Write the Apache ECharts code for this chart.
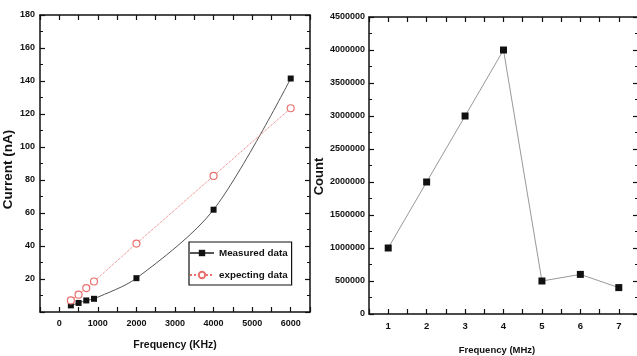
<!DOCTYPE html>
<html>
<head>
<meta charset="utf-8">
<script src="https://cdn.jsdelivr.net/npm/echarts/dist/echarts.min.js"></script>
<style>
html,body{margin:0;padding:0;background:#fff;}
#chart{width:637px;height:356px;}
</style>
</head>
<body>
<div id="chart"></div>
<script>
// ---- Data ----
var freqKHz = [300, 500, 700, 900, 2000, 4000, 6000];
var measuredData = [4, 5.5, 7, 8, 20.5, 62, 141.5];
var expectingData = [7, 10.5, 14.5, 18.5, 41.5, 82.5, 123.5];

var freqMHz = [1, 2, 3, 4, 5, 6, 7];
var countData = [1000000, 2000000, 3000000, 4000000, 500000, 600000, 400000];

var leftSeriesNames = ['Measured data', 'expecting data'];
var leftXTitle = 'Frequency (KHz)';
var leftYTitle = 'Current (nA)';
var rightXTitle = 'Frequency (MHz)';
var rightYTitle = 'Count';

// ---- Chart ----
var NARROW = "'Liberation Sans Narrow','Arial Narrow','Liberation Sans',Arial,sans-serif";
var SANS = "'Liberation Sans',Arial,sans-serif";

function pairs(xs, ys) { return xs.map(function (x, i) { return [x, ys[i]]; }); }

var axisLine = { show: true, onZero: false, lineStyle: { color: '#111', width: 1.5 } };
var tickIn = { show: true, inside: true, length: 5, lineStyle: { color: '#111', width: 1.2 } };
var minorIn = { show: true, splitNumber: 2, length: 3, lineStyle: { color: '#111', width: 1 } };
var lblStyle = { color: '#111', fontFamily: NARROW, fontWeight: 'bold' };

function frameX(gridIndex, min, max, interval) {
  return { type: 'value', gridIndex: gridIndex, position: 'top', min: min, max: max, interval: interval,
    axisLine: axisLine, axisTick: tickIn, axisLabel: { show: false }, splitLine: { show: false } };
}
function frameY(gridIndex, min, max, interval) {
  return { type: 'value', gridIndex: gridIndex, position: 'right', min: min, max: max, interval: interval,
    axisLine: axisLine, axisTick: tickIn, minorTick: minorIn, axisLabel: { show: false }, splitLine: { show: false } };
}

var option = {
  animation: false,
  backgroundColor: '#fff',
  grid: [
    { left: 40, top: 15, width: 270, height: 297, outerBoundsMode: 'none', containLabel: false },
    { left: 369, top: 17, width: 269, height: 297, outerBoundsMode: 'none', containLabel: false }
  ],
  legend: {
    data: leftSeriesNames,
    orient: 'vertical',
    left: 189, top: 242,
    itemWidth: 24, itemHeight: 8, itemGap: 12,
    padding: [6, 4, 5, 0],
    borderColor: '#111', borderWidth: 1.2,
    textStyle: { fontFamily: NARROW, fontWeight: 'bold', fontSize: 9.8, color: '#111' }
  },
  xAxis: [
    { type: 'value', gridIndex: 0, position: 'bottom', min: -500, max: 6500, interval: 500,
      name: leftXTitle, nameLocation: 'middle', nameGap: 28,
      nameTextStyle: { fontFamily: NARROW, fontWeight: 'bold', fontSize: 10.5, color: '#111' },
      axisLine: axisLine, axisTick: tickIn,
      axisLabel: Object.assign({ fontSize: 9, margin: 7, formatter: function (v) { return (v >= 0 && v % 1000 === 0) ? String(v) : ''; } }, lblStyle),
      splitLine: { show: false } },
    frameX(0, -500, 6500, 500),
    { type: 'value', gridIndex: 1, position: 'bottom', min: 0.5, max: 7.5, interval: 0.5,
      name: rightXTitle, nameLocation: 'middle', nameGap: 31,
      nameTextStyle: { fontFamily: NARROW, fontWeight: 'bold', fontSize: 9.5, color: '#111', padding: [0, 13, 0, 0] },
      axisLine: axisLine, axisTick: tickIn,
      axisLabel: Object.assign({ fontSize: 9.5, margin: 7, formatter: function (v) { return Number.isInteger(v) ? String(v) : ''; } }, lblStyle),
      splitLine: { show: false } },
    frameX(1, 0.5, 7.5, 0.5)
  ],
  yAxis: [
    { type: 'value', gridIndex: 0, position: 'left', min: 0, max: 180, interval: 20,
      name: leftYTitle, nameLocation: 'middle', nameGap: 25,
      nameTextStyle: { fontFamily: SANS, fontWeight: 'bold', fontSize: 13.5, color: '#111', padding: [0, 0, 0, -12] },
      axisLine: axisLine, axisTick: tickIn, minorTick: minorIn,
      axisLabel: Object.assign({ fontSize: 9, margin: 5, formatter: function (v) { return v === 0 ? '' : String(v); } }, lblStyle),
      splitLine: { show: false } },
    frameY(0, 0, 180, 20),
    { type: 'value', gridIndex: 1, position: 'left', min: 0, max: 4500000, interval: 500000,
      name: rightYTitle, nameLocation: 'middle', nameGap: 32,
      nameTextStyle: { fontFamily: SANS, fontWeight: 'bold', fontSize: 13, color: '#111', padding: [0, 0, 0, -22] },
      axisLine: axisLine, axisTick: tickIn, minorTick: minorIn,
      axisLabel: Object.assign({ fontSize: 9, margin: 4, formatter: function (v) { return String(v); } }, lblStyle),
      splitLine: { show: false } },
    frameY(1, 0, 4500000, 500000)
  ],
  series: [
    { name: leftSeriesNames[0], type: 'line', xAxisIndex: 0, yAxisIndex: 0,
      data: pairs(freqKHz, measuredData), smooth: 0.3,
      symbol: 'rect', symbolSize: 6,
      itemStyle: { color: '#111' },
      lineStyle: { color: '#555', width: 1 } },
    { name: leftSeriesNames[1], type: 'line', xAxisIndex: 0, yAxisIndex: 0,
      data: pairs(freqKHz, expectingData),
      symbol: 'circle', symbolSize: 7,
      itemStyle: { color: '#fff', borderColor: '#e8706e', borderWidth: 1.2 },
      lineStyle: { color: '#e8706e', width: 1, type: 'dotted' } },
    { name: 'count', type: 'line', xAxisIndex: 2, yAxisIndex: 2,
      data: pairs(freqMHz, countData),
      symbol: 'rect', symbolSize: 7,
      itemStyle: { color: '#111' },
      lineStyle: { color: '#999', width: 1 } }
  ]
};

var chart = echarts.init(document.getElementById('chart'), null, { renderer: 'canvas' });
chart.setOption(option);
</script>
</body>
</html>
